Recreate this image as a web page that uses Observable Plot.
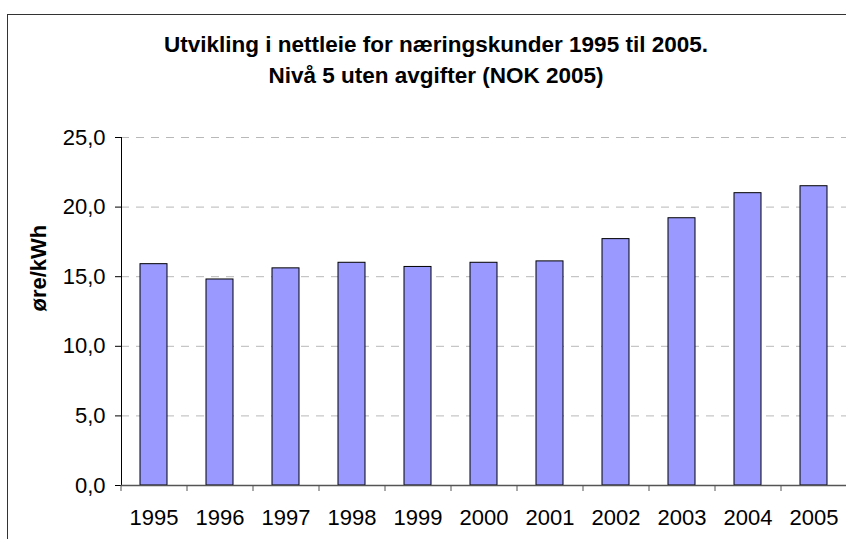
<!DOCTYPE html>
<html><head><meta charset="utf-8">
<script src="https://cdn.jsdelivr.net/npm/d3@7"></script>
<script src="https://cdn.jsdelivr.net/npm/@observablehq/plot@0.6"></script>
<style>
body{margin:0;background:#fff;font-family:"Liberation Sans",Arial,sans-serif;}
#wrap{position:relative;width:846px;height:539px;overflow:hidden;}
#frame{position:absolute;left:7px;top:14px;width:900px;height:600px;border-left:1px solid #333;border-top:1px solid #333;}
#title{position:absolute;left:136px;width:600px;top:29px;text-align:center;font-weight:bold;font-size:22.5px;line-height:31px;color:#000;}
#chart{position:absolute;left:0;top:0;}
</style></head><body>
<div id="wrap"><div id="frame"></div><div id="title"></div><div id="chart"></div></div>
<script>
const years = ["1995","1996","1997","1998","1999","2000","2001","2002","2003","2004","2005"];
const values = [15.9,14.8,15.6,16.0,15.7,16.0,16.1,17.7,19.2,21.0,21.5];
const yTicks = [0,5,10,15,20,25];
const titleLines = ["Utvikling i nettleie for næringskunder 1995 til 2005.","Nivå 5 uten avgifter (NOK 2005)"];
const yLabel = "øre/kWh";

const data = years.map((year,i)=>({year, value: values[i]}));
const fmt = d => d.toFixed(1).replace(".", ",");
document.getElementById("title").innerHTML = titleLines.map(t=>`<div>${t}</div>`).join("");

const plot = Plot.plot({
  width:846, height:539, marginTop:137, marginBottom:54, marginLeft:121, marginRight:0,
  style:{fontFamily:'"Liberation Sans",Arial,sans-serif', fontSize:"22px", background:"transparent", overflow:"visible", color:"#000"},
  x:{domain:years, range:[121,847], paddingInner:0.59, paddingOuter:0.295},
  y:{domain:[0,25]},
  marks:[
    Plot.gridY(yTicks.filter(d=>d>0), {stroke:"#b8b8b8", strokeOpacity:1, strokeDasharray:"8,7"}),
    Plot.barY(data,{x:"year",y:"value",fill:"#9999ff",stroke:"#000",strokeWidth:1}),
    Plot.axisY({ticks:yTicks, tickFormat:fmt, tickSize:6, tickPadding:10, label:null, stroke:"#000"}),
    Plot.frame({anchor:"left", stroke:"#000"}),
    Plot.ruleY([0], {stroke:"#555", strokeWidth:1.5}),
    Plot.axisX({tickSize:6, tickFormat:()=>"", dx:-33, stroke:"#555", label:null}),
    Plot.axisX({tickSize:0, tickPadding:24, label:null}),
    Plot.text([yLabel], {text:d=>d, frameAnchor:"left", dx:-83, rotate:-90, fontWeight:"bold", fontSize:22})
  ]
});
document.getElementById("chart").appendChild(plot);
</script></body></html>
